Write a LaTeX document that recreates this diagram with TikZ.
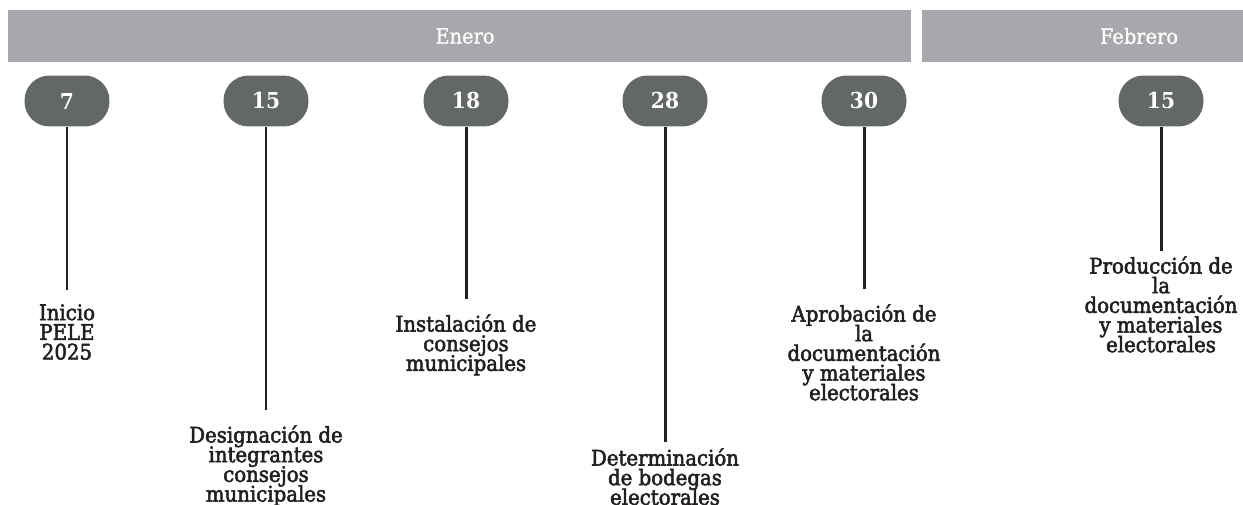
\documentclass[tikz,border=0pt]{standalone}
\usepackage{fontspec}
\setmainfont{DejaVu Serif}[FakeStretch=0.92, FakeBold=0.8]
\newfontfamily\evfont{DejaVu Serif}[FakeStretch=0.92, FakeBold=2.4]
\newfontfamily\numfont{DejaVu Serif}[FakeStretch=0.92]
\newcommand\evtexto{\evfont\fontsize{12.2}{11.2}\selectfont
    \setlength{\lineskiplimit}{-20pt}\setlength{\lineskip}{0pt}}

\definecolor{barra}{HTML}{A7A8AB}
\definecolor{pildora}{HTML}{646767}
\definecolor{tinta}{HTML}{231F20}

\begin{document}
\begin{tikzpicture}[x=0.02cm, y=-0.02cm,
    mes/.style={text=white, inner sep=0pt, font=\fontsize{12}{14}\selectfont},
    fecha/.style={fill=pildora, text=white, rounded corners=0.5cm, minimum width=1.7cm,
        minimum height=1.02cm, inner sep=0pt, font=\numfont\bfseries\fontsize{12.5}{14}\selectfont},
    evento/.style={text=tinta, align=center, anchor=north, inner sep=0pt, font=\evtexto},
    linea/.style={draw=tinta, line width=1.7pt}]
    \useasboundingbox (0,0) rectangle (1243,504);

    % Draw the month bars
    \fill[barra] (8,10) rectangle (911,62);
    \fill[barra] (922,10) rectangle (1243,62);
    \node[mes] (enero) at (465,36) {Enero};
    \node[mes] (febrero) at (1139,36) {Febrero};

    % Draw the date pills
    \node[fecha] (d7) at (67,101) {7};
    \node[fecha] (d15) at (266,101) {15};
    \node[fecha] (d18) at (466,101) {18};
    \node[fecha] (d28) at (665,101) {28};
    \node[fecha] (d30) at (864,101) {30};
    \node[fecha] (f15) at (1161,101) {15};

    % Draw the events below each date
    \node[evento] (e7) at (67,304) {Inicio\\PELE\\2025};
    \node[evento] (e15) at (266,425) {Designación de\\integrantes\\consejos\\municipales};
    \node[evento] (e18) at (466,314) {Instalación de\\consejos\\municipales};
    \node[evento] (e28) at (665,448) {Determinación\\de bodegas\\electorales};
    \node[evento] (e30) at (864,304) {Aprobación de\\la\\documentación\\y materiales\\electorales};
    \node[evento] (g15) at (1161,256) {Producción de\\la\\documentación\\y materiales\\electorales};

    % Draw the lines from dates to events
    \draw[linea, shorten >=0.28cm] (d7) -- (e7);
    \draw[linea, shorten >=0.3cm] (d15) -- (e15);
    \draw[linea, shorten >=0.3cm] (d18) -- (e18);
    \draw[linea, shorten >=0.12cm] (d28) -- (e28);
    \draw[linea, shorten >=0.3cm] (d30) -- (e30);
    \draw[linea, shorten >=0.1cm] (f15) -- (g15);
\end{tikzpicture}
\end{document}
